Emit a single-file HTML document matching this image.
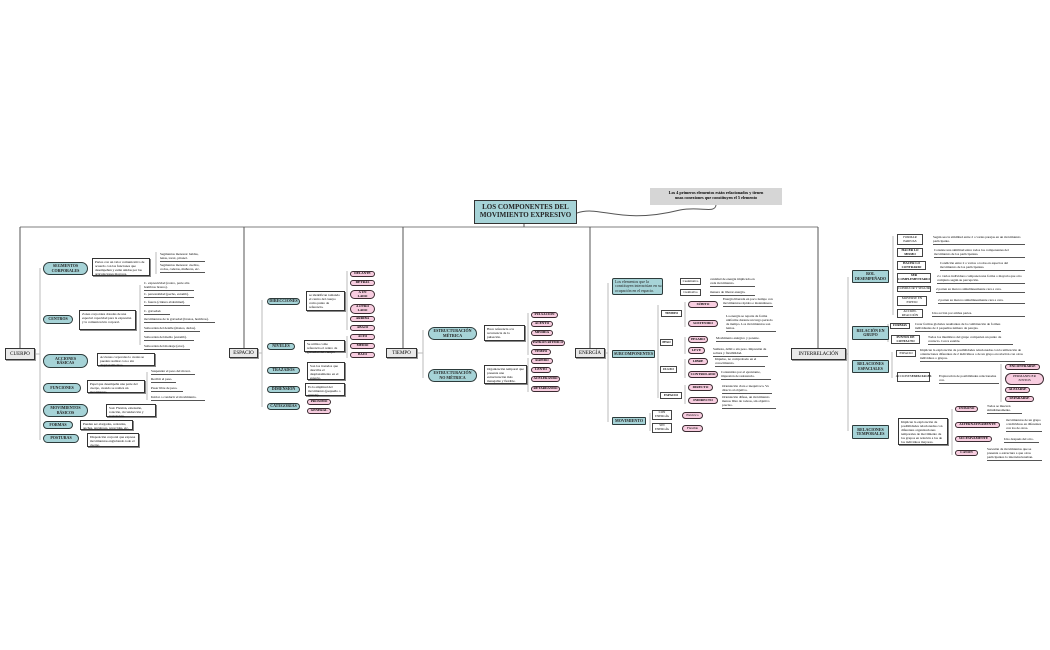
<!DOCTYPE html>
<html><head><meta charset="utf-8"><style>
body{margin:0;width:1050px;height:650px;background:#fff;position:relative;overflow:hidden;font-family:"Liberation Serif",serif}
div{position:absolute;box-sizing:border-box}
.t{background:#a6d3d7;border:1px solid #2d3b3b;border-radius:7px;font-size:4px;font-weight:bold;display:flex;align-items:center;justify-content:center;text-align:center;line-height:1.1;color:#222}
.tr{border-radius:1px}
.p{background:#f8cde0;border:1px solid #3a2a30;border-radius:6px;font-size:3.4px;font-weight:bold;display:flex;align-items:center;justify-content:center;text-align:center;line-height:1.05}
.g{background:#e9e9e9;border:1px solid #333;font-size:5px;display:flex;align-items:center;justify-content:center;box-shadow:1px 1px 0 #999}
.d{background:#fff;border:1px solid #333;font-size:3.4px;line-height:1.2;padding:1px 2px;box-shadow:1px 1px 0 #888}
.b{background:#fff;border:1px solid #444;font-size:3.2px;font-weight:bold;display:flex;align-items:center;justify-content:center;text-align:center;line-height:1.1}
.u{font-size:3.4px;line-height:1.2;border-bottom:1px solid #555;padding-bottom:1px}
</style></head><body>
<svg width="1050" height="650" style="position:absolute;left:0;top:0">
<g stroke="#555" stroke-width="1" fill="none">
<line x1="20" y1="227" x2="818" y2="227" stroke="#aaa" stroke-width="1.5"/>
<line x1="524" y1="224" x2="524" y2="227"/>
<line x1="20" y1="227" x2="20" y2="348"/>
<line x1="244" y1="227" x2="244" y2="348"/>
<line x1="403" y1="227" x2="403" y2="348"/>
<line x1="590" y1="227" x2="590" y2="348"/>
<line x1="818" y1="227" x2="818" y2="348"/>
<path d="M577 213 C 600 205, 620 225, 680 210 C 700 206, 715 214, 716 205"/>
</g>
<g stroke="#bbb" stroke-width="1" fill="none">
<line x1="40" y1="268" x2="40" y2="440"/><line x1="35" y1="354" x2="40" y2="354"/>
<line x1="262" y1="300" x2="262" y2="407"/><line x1="258" y1="353" x2="262" y2="353"/>
<line x1="423" y1="330" x2="423" y2="378"/><line x1="417" y1="353" x2="423" y2="353"/>
<line x1="608" y1="283" x2="608" y2="422"/><line x1="605" y1="353" x2="608" y2="353"/>
<line x1="848" y1="277" x2="848" y2="431"/><line x1="846" y1="354" x2="848" y2="354"/>
<line x1="156" y1="252" x2="156" y2="274"/>
<line x1="140" y1="285" x2="140" y2="345"/>
<line x1="147" y1="372" x2="147" y2="400"/>
<line x1="347" y1="271" x2="347" y2="330"/><line x1="347" y1="336" x2="347" y2="358"/>
<line x1="528" y1="313" x2="528" y2="355"/><line x1="528" y1="358" x2="528" y2="392"/>
<line x1="658" y1="305" x2="658" y2="398"/><line x1="685" y1="302" x2="685" y2="327"/><line x1="685" y1="337" x2="685" y2="354"/><line x1="685" y1="359" x2="685" y2="378"/><line x1="685" y1="385" x2="685" y2="404"/>
<line x1="893" y1="236" x2="893" y2="315"/><line x1="888" y1="324" x2="888" y2="342"/><line x1="892" y1="352" x2="892" y2="378"/><line x1="1001" y1="364" x2="1001" y2="402"/><line x1="952" y1="409" x2="952" y2="455"/>
<line x1="650" y1="413" x2="650" y2="431"/>
</g>
</svg>

<div class="t tr" style="left:474px;top:200px;width:103px;height:24px;font-size:7px;border-radius:0;border:1.5px solid #333">LOS COMPONENTES DEL<br>MOVIMIENTO EXPRESIVO</div>
<div style="left:650px;top:188px;width:132px;height:17px;background:#d6d6d6;font-size:4.2px;font-weight:bold;text-align:center;line-height:1.3;padding-top:2px">Los 4 primeros elementos están relacionados y tienen<br>unas conexiones que constituyen el 5 elemento</div>

<div class="g" style="left:5px;top:348px;width:30px;height:12px">CUERPO</div>
<div class="g" style="left:229px;top:348px;width:29px;height:10px">ESPACIO</div>
<div class="g" style="left:386px;top:348px;width:31px;height:10px">TIEMPO</div>
<div class="g" style="left:575px;top:348px;width:30px;height:10px">ENERGÍA</div>
<div class="g" style="left:791px;top:348px;width:55px;height:12px">INTERRELACIÓN</div>

<!-- CUERPO -->
<div class="t" style="left:43px;top:262px;width:45px;height:13px">SEGMENTOS<br>CORPORALES</div>
<div class="t" style="left:43px;top:315px;width:30px;height:9px">CENTROS</div>
<div class="t" style="left:43px;top:354px;width:45px;height:14px">ACCIONES<br>BÁSICAS</div>
<div class="t" style="left:43px;top:383px;width:38px;height:10px">FUNCIONES</div>
<div class="t" style="left:43px;top:404px;width:45px;height:13px">MOVIMIENTOS<br>BÁSICOS</div>
<div class="t" style="left:43px;top:421px;width:30px;height:8px">FORMAS</div>
<div class="t" style="left:43px;top:434px;width:36px;height:9px">POSTURAS</div>
<div class="d" style="left:92px;top:258px;width:58px;height:18px">Partes con un valor comunicativo de acuerdo con las funciones que desempeñan y están unidas por las articulaciones mayores.</div>
<div class="d" style="left:79px;top:310px;width:57px;height:20px">Zonas corporales dotadas de una especial capacidad para la expresión y la comunicación corporal.</div>
<div class="d" style="left:97px;top:353px;width:58px;height:13px">Acciones corporales lo cuales se pueden realizar con o sin desplazamientos.</div>
<div class="d" style="left:87px;top:380px;width:58px;height:13px">Papel que desempeña una parte del cuerpo, cuando se realiza un movimiento.</div>
<div class="d" style="left:106px;top:404px;width:50px;height:13px">Son: Flexión, extensión, rotación, circunducción y translación.</div>
<div class="d" style="left:80px;top:420px;width:53px;height:10px">Pueden ser alargadas, redondas, anchas, angulosas, retorcidas, etc.</div>
<div class="d" style="left:87px;top:433px;width:52px;height:14px">Disposición corporal que expresa movimientos englobando todo el cuerpo.</div>
<div class="u" style="left:160px;top:252px;width:45px">Segmentos menores: haldas, lenas, torax, pitonel.</div>
<div class="u" style="left:160px;top:263px;width:45px">Segmentos menores: cuellos, codos, caderas, muñecas, etc.</div>
<div class="u" style="left:144px;top:281px;width:50px">C. expresividad (rostro, parte alta hombros brazos).</div>
<div class="u" style="left:144px;top:292px;width:50px">C. personalidad (pecho, estomb).</div>
<div class="u" style="left:144px;top:300px;width:46px">C. fuerza (cintura abdominal).</div>
<div class="u" style="left:144px;top:309px;width:26px">C. gravedad.</div>
<div class="u" style="left:144px;top:317px;width:71px">movimientos de la gravedad (brazos, hombros).</div>
<div class="u" style="left:144px;top:326px;width:56px">Suboorden del detalle (manos, dedos).</div>
<div class="u" style="left:144px;top:335px;width:50px">Suboorden del medio (estomb).</div>
<div class="u" style="left:144px;top:344px;width:46px">Suboorden del montaje (ator).</div>
<div class="u" style="left:151px;top:369px;width:44px">Suspender el peso del mover.</div>
<div class="u" style="left:151px;top:377px;width:25px">Recibir el peso.</div>
<div class="u" style="left:151px;top:386px;width:32px">Pasar libre de peso.</div>
<div class="u" style="left:151px;top:395px;width:54px">Iniciar o conducir el movimiento.</div>

<!-- ESPACIO -->
<div class="t" style="left:267px;top:298px;width:33px;height:7px">DIRECCIONES</div>
<div class="t" style="left:267px;top:343px;width:28px;height:7px">NIVELES</div>
<div class="t" style="left:267px;top:367px;width:33px;height:7px">TRAZADOS</div>
<div class="t" style="left:267px;top:386px;width:33px;height:7px">DIMENSIÓN</div>
<div class="t" style="left:267px;top:403px;width:33px;height:7px">CATEGORÍAS</div>
<div class="d" style="left:306px;top:291px;width:39px;height:20px">se identifican tomando el centro del cuerpo como punto de referencia.</div>
<div class="d" style="left:304px;top:340px;width:41px;height:12px">Se utiliza como referencia el centro de gravedad del cuerpo.</div>
<div class="d" style="left:307px;top:362px;width:38px;height:18px">Son los trazados que describe el desplazamiento en el espacio.</div>
<div class="d" style="left:305px;top:383px;width:40px;height:13px">Es la amplitud del movimiento (pequeño o grande).</div>
<div class="p" style="left:350px;top:271px;width:25px;height:6px">DELANTE</div>
<div class="p" style="left:350px;top:280px;width:25px;height:6px">DETRÁS</div>
<div class="p" style="left:350px;top:290px;width:25px;height:9px">A UN<br>LADO</div>
<div class="p" style="left:350px;top:304px;width:25px;height:10px">A OTRO<br>LADO</div>
<div class="p" style="left:350px;top:316px;width:25px;height:6px">ARRIBA</div>
<div class="p" style="left:350px;top:325px;width:25px;height:6px">ABAJO</div>
<div class="p" style="left:350px;top:334px;width:25px;height:6px">ALTO</div>
<div class="p" style="left:350px;top:343px;width:25px;height:6px">MEDIO</div>
<div class="p" style="left:350px;top:352px;width:25px;height:6px">BAJO</div>
<div class="p" style="left:307px;top:399px;width:24px;height:6px">PRÓXIMO</div>
<div class="p" style="left:307px;top:408px;width:24px;height:6px">GENERAL</div>

<!-- TIEMPO -->
<div class="t" style="left:428px;top:327px;width:49px;height:13px">ESTRUCTURACIÓN<br>MÉTRICA</div>
<div class="t" style="left:428px;top:369px;width:49px;height:13px">ESTRUCTURACIÓN<br>NO MÉTRICA</div>
<div class="d" style="left:484px;top:325px;width:41px;height:16px">Hace referencia a la recurrencia de la pulsación.</div>
<div class="d" style="left:484px;top:365px;width:43px;height:19px">Organización temporal que presenta una estructuración más manejable y flexible.</div>
<div class="p" style="left:531px;top:312px;width:27px;height:6px">PULSACIÓN</div>
<div class="p" style="left:531px;top:321px;width:22px;height:6px">ACENTO</div>
<div class="p" style="left:531px;top:330px;width:22px;height:6px">MEDIDA</div>
<div class="p" style="left:531px;top:340px;width:34px;height:6px">PATRÓN RÍTMICO</div>
<div class="p" style="left:531px;top:349px;width:20px;height:6px">TEMPO</div>
<div class="p" style="left:531px;top:358px;width:22px;height:6px">RÁPIDO</div>
<div class="p" style="left:531px;top:367px;width:20px;height:6px">LENTO</div>
<div class="p" style="left:531px;top:376px;width:29px;height:6px">ACELERANDO</div>
<div class="p" style="left:531px;top:386px;width:29px;height:6px">RETARDANDO</div>

<!-- ENERGIA -->
<div class="t" style="left:612px;top:278px;width:51px;height:17px;border-radius:2px;font-weight:normal;font-size:4px;text-align:left;justify-content:flex-start;padding-left:2px">Los elementos que la constituyen interactúan en su ocupación en el espacio.</div>
<div class="t tr" style="left:612px;top:350px;width:43px;height:8px">SUBCOMPONENTES</div>
<div class="t tr" style="left:612px;top:417px;width:34px;height:8px">MOVIMIENTO</div>
<div class="b" style="left:680px;top:278px;width:21px;height:7px;font-weight:normal">Cuantitativo</div>
<div class="b" style="left:680px;top:289px;width:21px;height:7px;font-weight:normal">Cualitativo</div>
<div class="u" style="left:710px;top:277px;width:45px">cantidad de energía implicada en cada movimiento.</div>
<div class="u" style="left:710px;top:290px;width:45px">manera de liberar energía.</div>
<div class="b" style="left:661px;top:310px;width:21px;height:7px">TIEMPO</div>
<div class="b" style="left:660px;top:339px;width:13px;height:7px">PESO</div>
<div class="b" style="left:660px;top:366px;width:17px;height:7px">FLUJO</div>
<div class="b" style="left:660px;top:392px;width:22px;height:7px">ESPACIO</div>
<div class="p" style="left:688px;top:301px;width:30px;height:7px">SÚBITO</div>
<div class="p" style="left:688px;top:320px;width:30px;height:7px">SOSTENIDO</div>
<div class="p" style="left:688px;top:336px;width:20px;height:7px">PESADO</div>
<div class="p" style="left:688px;top:347px;width:17px;height:7px">LEVE</div>
<div class="p" style="left:688px;top:358px;width:20px;height:7px">LIBRE</div>
<div class="p" style="left:688px;top:371px;width:30px;height:7px">CONTROLADO</div>
<div class="p" style="left:688px;top:384px;width:25px;height:7px">DIRECTO</div>
<div class="p" style="left:688px;top:397px;width:30px;height:7px">INDIRECTO</div>
<div class="u" style="left:723px;top:297px;width:50px">Energía liberada en poco tiempo con movimientos rápidos e instantáneos.</div>
<div class="u" style="left:726px;top:314px;width:50px">La energía se reparte de forma uniforme durante un largo periodo de tiempo. Los movimientos son lentos.</div>
<div class="u" style="left:716px;top:336px;width:45px">Movimiento enérgico y potente.</div>
<div class="u" style="left:713px;top:347px;width:55px">Sutileza, débil o sin peso. Impresión de soltura y flexibilidad.</div>
<div class="u" style="left:715px;top:357px;width:50px">Impulso, no comprobado en el conocimiento.</div>
<div class="u" style="left:721px;top:370px;width:50px">Contenidos por el ejecutante, impresión de resistencia.</div>
<div class="u" style="left:722px;top:384px;width:50px">Orientación clara e inequívoca. Va directo al objetivo.</div>
<div class="u" style="left:722px;top:395px;width:54px">Orientación difusa, un movimiento menos libre de rodeos, sin objetivo preciso.</div>
<div class="b" style="left:652px;top:410px;width:20px;height:10px;font-weight:normal">CON<br>ENERGÍA</div>
<div class="b" style="left:652px;top:423px;width:20px;height:10px;font-weight:normal">SIN<br>ENERGÍA</div>
<div class="p" style="left:682px;top:412px;width:21px;height:7px;font-weight:normal">Eléctrico</div>
<div class="p" style="left:682px;top:425px;width:21px;height:7px;font-weight:normal">Flexible</div>

<!-- INTERRELACION -->
<div class="t tr" style="left:852px;top:270px;width:37px;height:13px">ROL<br>DESEMPEÑADO</div>
<div class="t tr" style="left:852px;top:326px;width:37px;height:14px">RELACIÓN EN<br>GRUPO</div>
<div class="t tr" style="left:852px;top:360px;width:37px;height:13px">RELACIONES<br>ESPACIALES</div>
<div class="t tr" style="left:852px;top:425px;width:37px;height:14px">RELACIONES<br>TEMPORALES</div>
<div class="b" style="left:897px;top:234px;width:26px;height:11px;font-weight:normal">FORMAR<br>PAREJAS</div>
<div class="b" style="left:897px;top:248px;width:26px;height:9px">HACER LO<br>MISMO</div>
<div class="b" style="left:897px;top:261px;width:29px;height:9px">HACER LO<br>CONTRARIO</div>
<div class="b" style="left:897px;top:273px;width:34px;height:10px">SER<br>COMPLEMENTARIO</div>
<div class="b" style="left:897px;top:286px;width:34px;height:6px;font-weight:normal">CONDUCIR Y SEGUIR</div>
<div class="b" style="left:897px;top:296px;width:30px;height:10px;font-weight:normal">MOVERSE EN<br>ESPEJO</div>
<div class="b" style="left:897px;top:309px;width:26px;height:9px;font-weight:normal">ACCIÓN-<br>REACCIÓN</div>
<div class="u" style="left:933px;top:235px;width:92px">Según sea la similitud entre 2 o varias parejas en un movimiento participante.</div>
<div class="u" style="left:934px;top:248px;width:91px">Consiste una similitud entre todos los componentes del movimiento de los participantes.</div>
<div class="u" style="left:940px;top:261px;width:85px">Condición entre 2 o varios o todos en aspectos del movimiento de los participantes.</div>
<div class="u" style="left:937px;top:274px;width:88px">2 o varios individuos componen una forma o mayoría que otro completo según su percepción.</div>
<div class="u" style="left:936px;top:287px;width:89px">2 parten su marcos simultáneamente cara a cara.</div>
<div class="u" style="left:938px;top:298px;width:87px">2 parten su marcos simultáneamente cara a cara.</div>
<div class="u" style="left:932px;top:311px;width:93px">Una acción por ambas partes.</div>
<div class="b" style="left:890px;top:323px;width:20px;height:6px">FORMAS</div>
<div class="b" style="left:891px;top:335px;width:29px;height:9px">PUNTOS DE<br>CONTACTO</div>
<div class="u" style="left:915px;top:322px;width:86px">Crear formas globales resultantes de la combinación de formas individuales de 2 pequeños número de parejas.</div>
<div class="u" style="left:928px;top:335px;width:85px">Todos los miembros del grupo comparten un punto de contacto. Cerca estable.</div>
<div class="b" style="left:896px;top:350px;width:20px;height:7px;font-weight:normal">ESPACIO</div>
<div class="b" style="left:897px;top:372px;width:33px;height:10px;font-weight:normal">ACCIONES<br><b>ESPACIALES</b></div>
<div class="u" style="left:920px;top:348px;width:105px">Implican la exploración de posibilidades relacionadas con la utilización de orientaciones diferentes de 2 individuos o de un grupo en relación con otros individuos o grupos.</div>
<div class="u" style="left:939px;top:374px;width:60px">Exploración de posibilidades relacionadas con.</div>
<div class="p" style="left:1005px;top:364px;width:35px;height:6px">ENCONTRARSE</div>
<div class="p" style="left:1005px;top:373px;width:39px;height:12px;font-weight:normal">PERMANECER<br>JUNTOS</div>
<div class="p" style="left:1005px;top:387px;width:25px;height:6px">ALEJARSE</div>
<div class="p" style="left:1005px;top:396px;width:29px;height:6px">SEPARARSE</div>
<div class="d" style="left:898px;top:418px;width:50px;height:27px">Implican la exploración de posibilidades relacionadas con diferentes organizaciones temporales de movimiento de los grupos en relación a los de los individuos mayores.</div>
<div class="p" style="left:955px;top:406px;width:23px;height:6px">UNÍSONO</div>
<div class="p" style="left:955px;top:422px;width:45px;height:6px">ALTERNATIVAMENTE</div>
<div class="p" style="left:955px;top:436px;width:37px;height:6px">SUCESIVAMENTE</div>
<div class="p" style="left:955px;top:450px;width:23px;height:6px">CANON</div>
<div class="u" style="left:987px;top:404px;width:35px">Todos se mueven simultáneamente.</div>
<div class="u" style="left:1006px;top:418px;width:36px">movimientos de un grupo o individuos en diferentes con los de otros.</div>
<div class="u" style="left:1004px;top:437px;width:35px">Uno después del otro.</div>
<div class="u" style="left:987px;top:447px;width:55px">Sucesión de movimientos que se presenta o estructura a que otros participantes lo interrelacionaban.</div>
</body></html>
